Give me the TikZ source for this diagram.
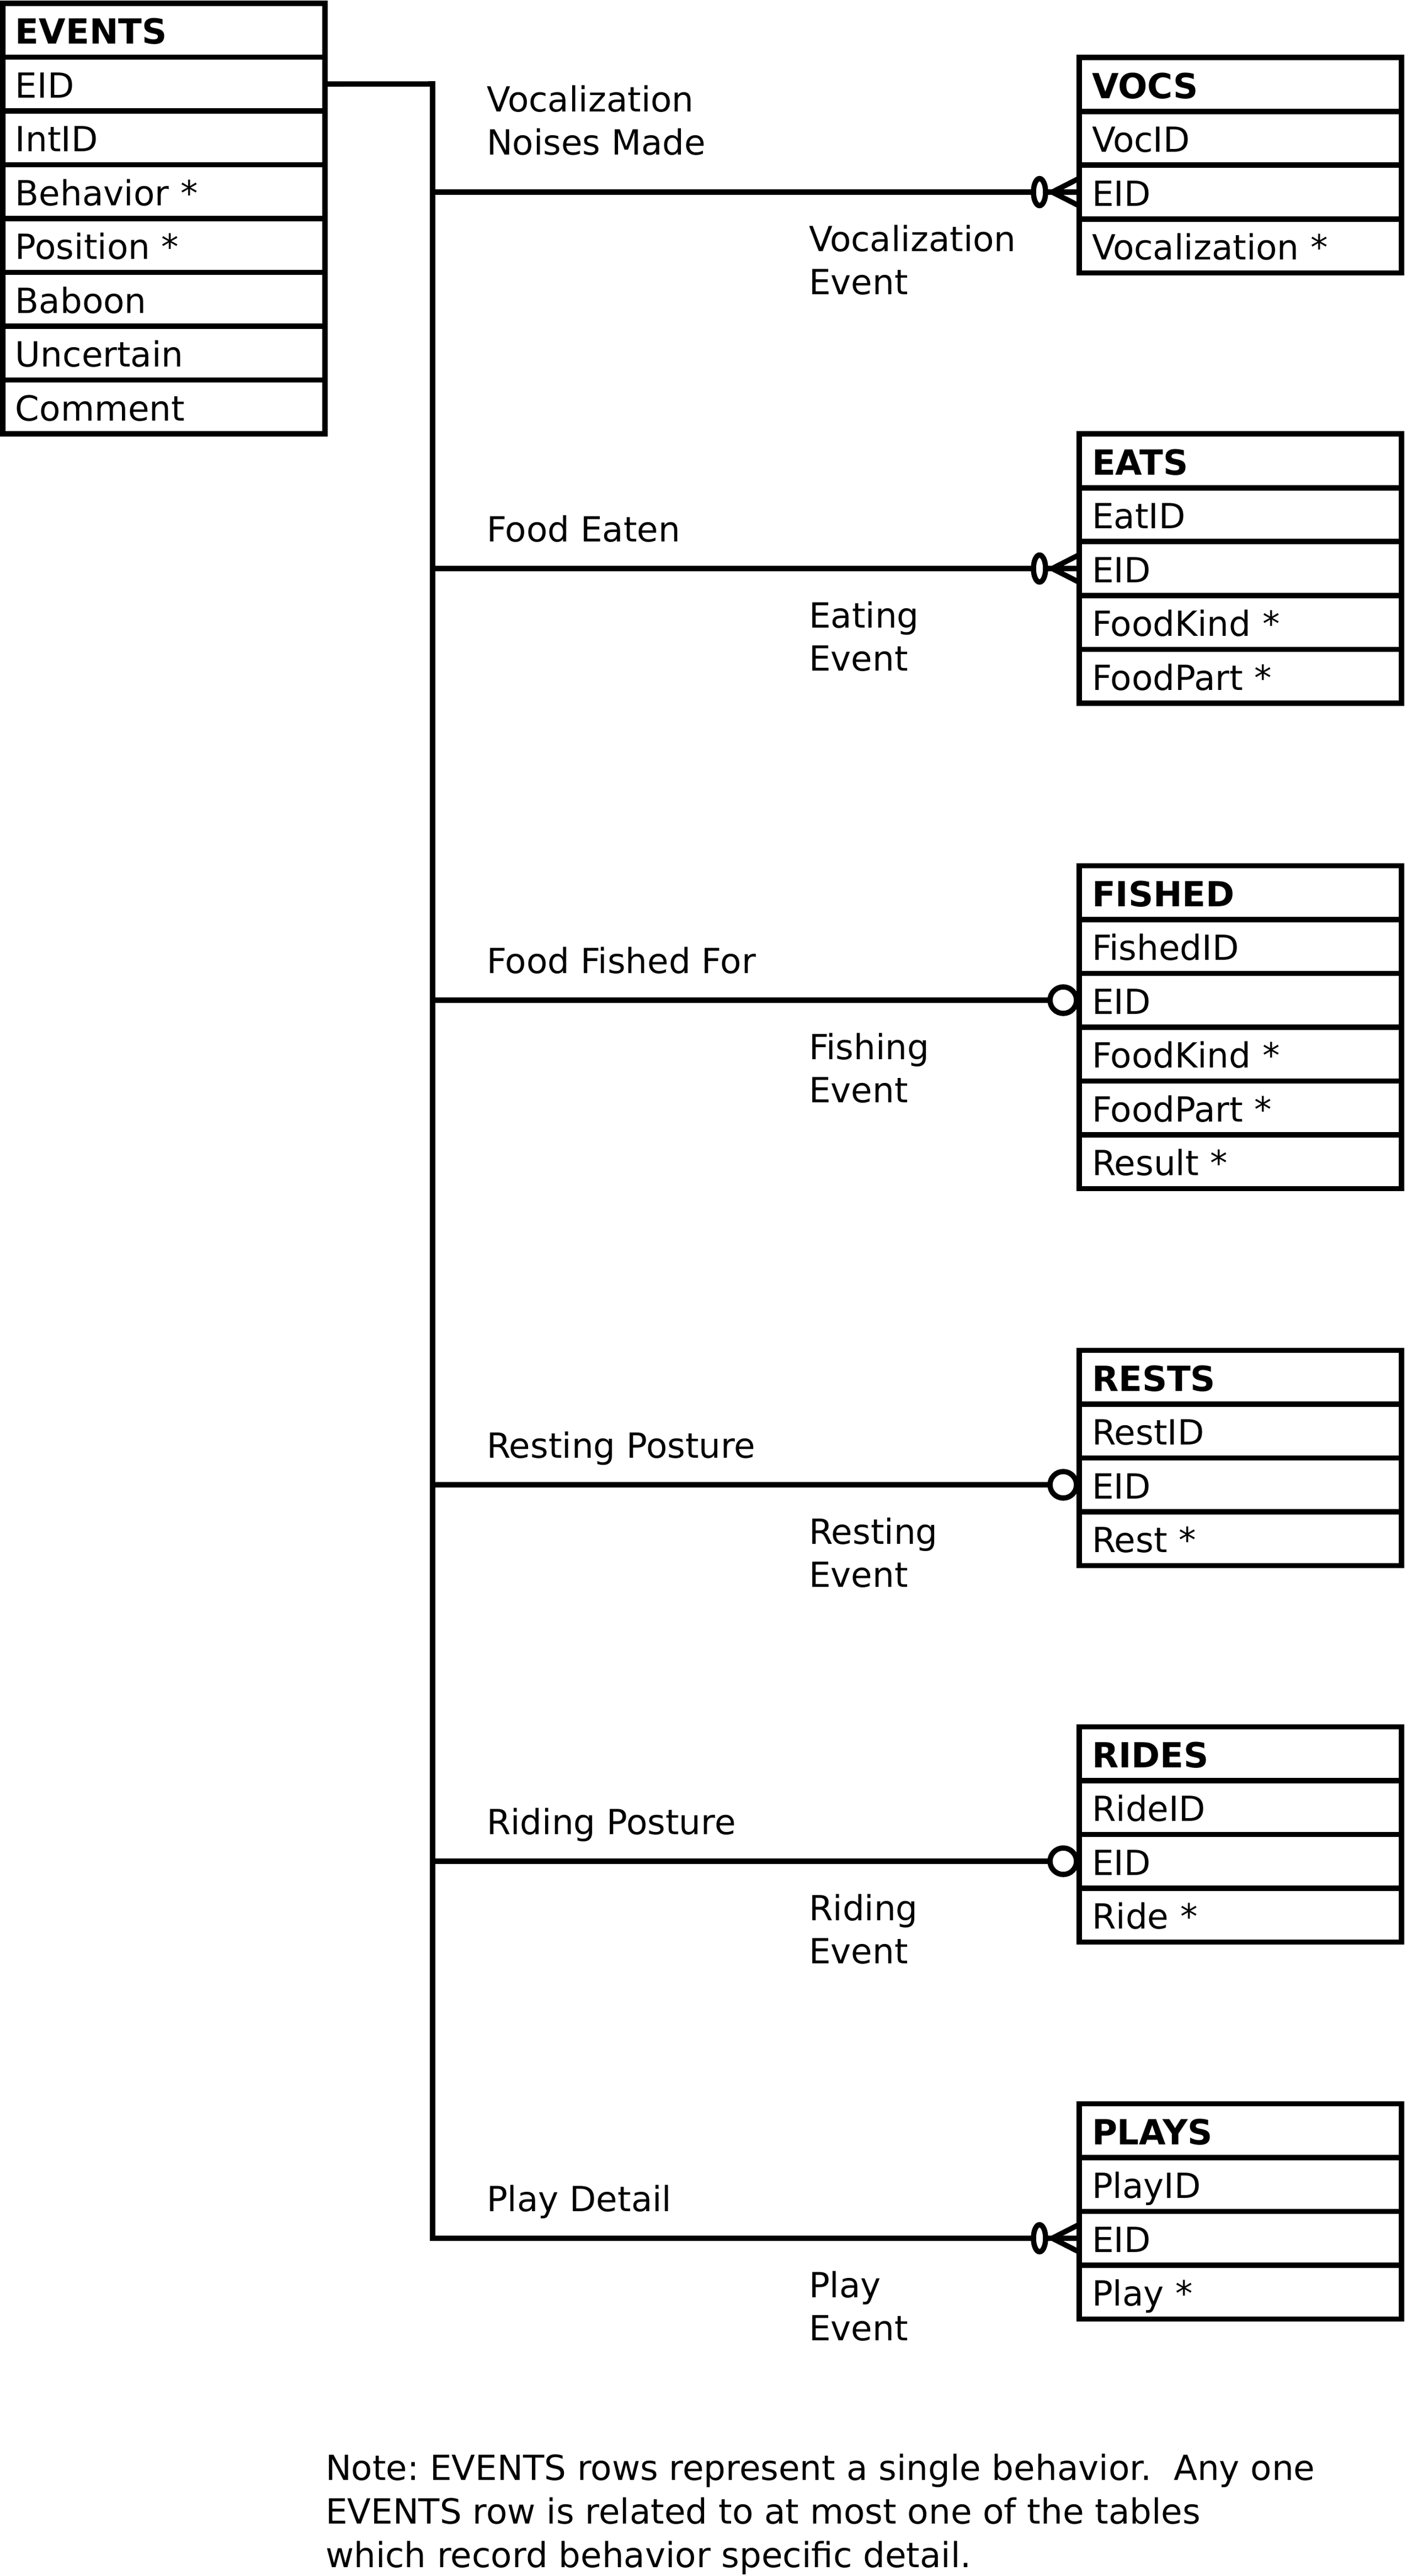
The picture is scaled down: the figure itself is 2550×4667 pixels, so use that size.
\documentclass[tikz,border=0pt]{standalone}
\usepackage{fontspec}
\setmainfont{DejaVu Sans}
\usetikzlibrary{calc}
\frenchspacing
\tikzset{
  basefont/.style={font=\fontsize{15.1}{19}\selectfont},
  fieldrow/.style={draw, line width=2.3pt, rectangle, anchor=north west, outer sep=0pt,
    minimum width=140.7pt, minimum height=23.49pt, text width=129.62pt,
    inner xsep=5.54pt, inner ysep=0pt, align=left, text height=12.05pt, text depth=0pt,
    basefont},
  titlerow/.style={fieldrow, font=\fontsize{15.1}{19}\selectfont\bfseries},
  conn/.style={draw, line width=2.3pt},
  lbl/.style={anchor=base west, inner sep=0pt, outer sep=0pt, basefont},
}
\newcommand{\ertable}[5]{%
  \node[titlerow] (#1-0) at (#2,#3) {#4};
  \foreach \fld [count=\i] in {#5} {%
    \node[fieldrow] (#1-\i) at (#2,{#3+\i*97.5}) {\fld};
  }%
}
\begin{document}
\begin{tikzpicture}[x=0.2409pt, y=-0.2409pt]
\path[use as bounding box, fill=white] (0,0) rectangle (2550,4667);

% tables
\ertable{events}{5}{6}{EVENTS}{EID,IntID,Behavior *,Position *,Baboon,Uncertain,Comment}
\ertable{vocs}{1956}{104.25}{VOCS}{VocID,EID,Vocalization *}
\ertable{eats}{1956}{786.25}{EATS}{EatID,EID,FoodKind *,FoodPart *}
\ertable{fished}{1956}{1568.25}{FISHED}{FishedID,EID,FoodKind *,FoodPart *,Result *}
\ertable{rests}{1956}{2446.25}{RESTS}{RestID,EID,Rest *}
\ertable{rides}{1956}{3128.25}{RIDES}{RideID,EID,Ride *}
\ertable{plays}{1956}{3811.25}{PLAYS}{PlayID,EID,Play *}

% trunk
\coordinate (trunk) at (784,152);
\draw[conn] (events-1.east) -- (trunk) |- (plays-2.west);
\foreach \t in {vocs,eats,fished,rests,rides}
  \draw[conn] (trunk |- \t-2.west) -- (\t-2.west);

% zero-or-many ends
\foreach \t in {vocs,eats,plays} {
  \draw[conn] ($(\t-2.west)+(-49,0)$) -- ($(\t-2.west)+(0,-25)$);
  \draw[conn] ($(\t-2.west)+(-49,0)$) -- ($(\t-2.west)+(0,25)$);
  \draw[conn, fill=white] ($(\t-2.west)+(-72,0)$) ellipse [x radius=2.65pt, y radius=5.9pt];
}
% zero-or-one ends
\foreach \t in {fished,rests,rides}
  \draw[conn, fill=white] ($(\t-2.west)+(-29,0)$) circle [radius=5.78pt];

% relationship labels
\node[lbl] (vocA1) at (882,202) {Vocalization};
\node[lbl] (vocA2) at (882,280) {Noises Made};
\node[lbl] (vocB1) at (1466,455) {Vocalization};
\node[lbl] (vocB2) at (1466,533) {Event};

\node[lbl] (eatA1) at (882,981) {Food Eaten};
\node[lbl] (eatB1) at (1466,1137) {Eating};
\node[lbl] (eatB2) at (1466,1215) {Event};

\node[lbl] (fisA1) at (882,1763) {Food Fished For};
\node[lbl] (fisB1) at (1466,1919) {Fishing};
\node[lbl] (fisB2) at (1466,1997) {Event};

\node[lbl] (resA1) at (882,2641) {Resting Posture};
\node[lbl] (resB1) at (1466,2797) {Resting};
\node[lbl] (resB2) at (1466,2875) {Event};

\node[lbl] (ridA1) at (882,3323) {Riding Posture};
\node[lbl] (ridB1) at (1466,3479) {Riding};
\node[lbl] (ridB2) at (1466,3557) {Event};

\node[lbl] (plaA1) at (882,4006) {Play Detail};
\node[lbl] (plaB1) at (1466,4162) {Play};
\node[lbl] (plaB2) at (1466,4240) {Event};

% note
\node[lbl] (note1) at (590,4493) {Note: EVENTS rows represent a single behavior.\ \ Any one};
\node[lbl] (note2) at (590,4572) {EVENTS row is related to at most one of the tables};
\node[lbl] (note3) at (590,4651) {which record behavior specific detail.};
\end{tikzpicture}
\end{document}
